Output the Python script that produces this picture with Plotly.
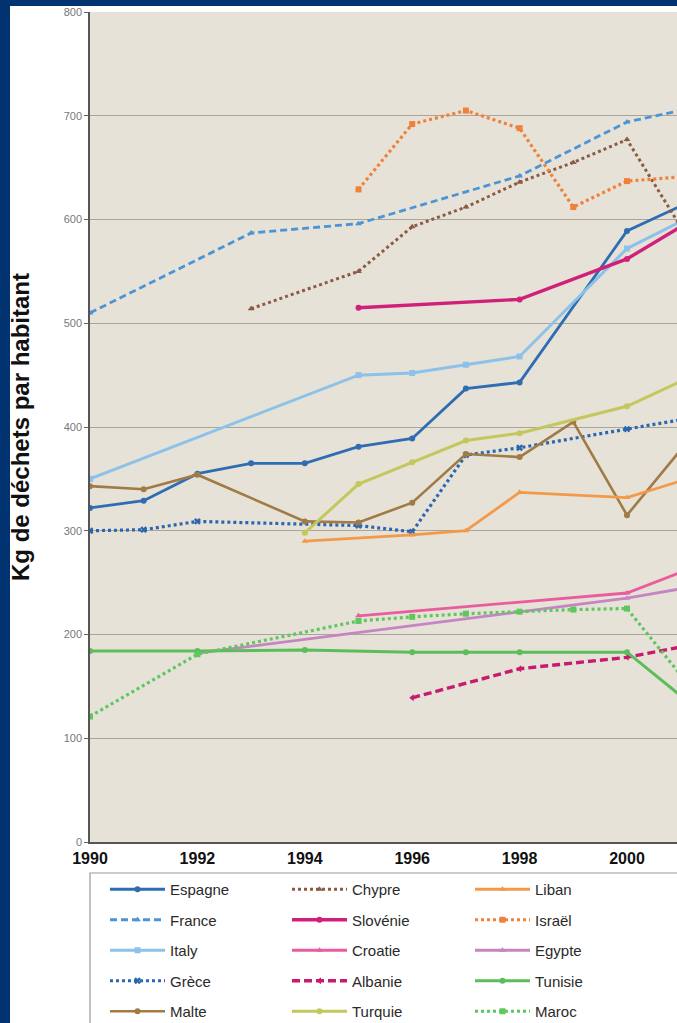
import plotly.graph_objects as go

# ---------------- data ----------------
espagne_x = [1990, 1991, 1992, 1993, 1994, 1995, 1996, 1997, 1998, 2000, 2001]
espagne_y = [322, 329, 355, 365, 365, 381, 389, 437, 443, 589, 613]

france_x = [1990, 1993, 1995, 1998, 2000, 2001]
france_y = [510, 587, 596, 642, 694, 705]

italy_x = [1990, 1995, 1996, 1997, 1998, 2000, 2001]
italy_y = [350, 450, 452, 460, 468, 572, 598]

grece_x = [1990, 1991, 1992, 1995, 1996, 1997, 1998, 2000, 2001]
grece_y = [300, 301, 309, 305, 299, 373, 380, 398, 407]

malte_x = [1990, 1991, 1992, 1994, 1995, 1996, 1997, 1998, 1999, 2000, 2001]
malte_y = [343, 340, 354, 309, 308, 327, 374, 371, 405, 315, 378]

chypre_x = [1993, 1995, 1996, 1997, 1998, 1999, 2000, 2001]
chypre_y = [514, 550, 593, 612, 636, 655, 677, 593]

slovenie_x = [1995, 1998, 2000, 2001]
slovenie_y = [515, 523, 562, 593]

croatie_x = [1995, 2000, 2001]
croatie_y = [218, 240, 260]

albanie_x = [1996, 1998, 2000, 2001]
albanie_y = [139, 167, 178, 188]

turquie_x = [1994, 1995, 1996, 1997, 1998, 2000, 2001]
turquie_y = [298, 345, 366, 387, 394, 420, 444]

liban_x = [1994, 1996, 1997, 1998, 2000, 2001]
liban_y = [290, 296, 300, 337, 332, 348]

israel_x = [1995, 1996, 1997, 1998, 1999, 2000, 2001]
israel_y = [629, 692, 705, 688, 612, 637, 641]

egypte_x = [1992, 2000, 2001]
egypte_y = [182, 235, 244]

tunisie_x = [1990, 1992, 1994, 1996, 1997, 1998, 2000, 2001]
tunisie_y = [184, 184, 185, 183, 183, 183, 183, 141]

maroc_x = [1990, 1992, 1995, 1996, 1997, 1998, 1999, 2000, 2001]
maroc_y = [121, 181, 213, 217, 220, 222, 224, 225, 161]

x_ticks = [1990, 1992, 1994, 1996, 1998, 2000]
y_ticks = [0, 100, 200, 300, 400, 500, 600, 700, 800]

# ---------------- layout helpers ----------------
W, H = 677, 1023
PL, PR, PT, PB = 90, 677, 12, 842  # plot area in pixels


def px2x(px):
    return (px - PL) / (PR - PL)


def px2y(py):
    return (PB - py) / (PB - PT)


DOT = "3px,3px"
DASH = "7px,4px"

series = [
    # name, x, y, color, dash, width, symbol, legend
    ("Espagne", espagne_x, espagne_y, "#2f6db3", "solid", 2.8, "circle", "legend"),
    ("France", france_x, france_y, "#4b94d6", DASH, 2.8, "triangle-up", "legend"),
    ("Italy", italy_x, italy_y, "#8cc1ea", "solid", 3.0, "square", "legend"),
    ("Grèce", grece_x, grece_y, "#2b66b1", DOT, 3.2, "x", "legend"),
    ("Malte", malte_x, malte_y, "#a07b45", "solid", 2.6, "circle", "legend"),
    ("Chypre", chypre_x, chypre_y, "#8c5a45", DOT, 3.0, "triangle-up", "legend2"),
    ("Slovénie", slovenie_x, slovenie_y, "#d1207a", "solid", 3.4, "circle", "legend2"),
    ("Croatie", croatie_x, croatie_y, "#ea5c9e", "solid", 2.8, "triangle-up", "legend2"),
    ("Albanie", albanie_x, albanie_y, "#c81b6f", "8px,4px", 3.4, "triangle-left", "legend2"),
    ("Turquie", turquie_x, turquie_y, "#c4c75b", "solid", 3.0, "circle", "legend2"),
    ("Liban", liban_x, liban_y, "#f3994a", "solid", 2.8, "triangle-up", "legend3"),
    ("Israël", israel_x, israel_y, "#f0803a", DOT, 3.2, "square", "legend3"),
    ("Egypte", egypte_x, egypte_y, "#c584c2", "solid", 2.8, "triangle-up", "legend3"),
    ("Tunisie", tunisie_x, tunisie_y, "#5dbd5d", "solid", 3.0, "circle", "legend3"),
    ("Maroc", maroc_x, maroc_y, "#5fc75f", DOT, 3.2, "square", "legend3"),
]

fig = go.Figure()
for name, xs, ys, color, dash, width, symbol, leg in series:
    fig.add_trace(go.Scatter(
        x=xs, y=ys, name=name, mode="lines+markers",
        line=dict(color=color, width=width, dash=dash),
        marker=dict(symbol=symbol, size=6, color=color, line=dict(width=0)),
        cliponaxis=True,
        legend=leg, legendgroup=name,
    ))

legend_common = dict(
    orientation="v", bgcolor="rgba(0,0,0,0)", borderwidth=0,
    font=dict(family="Liberation Sans, Arial, sans-serif", size=15, color="#2a2a2a"),
    itemwidth=55, tracegroupgap=8, yanchor="top", xanchor="left",
    itemclick=False, itemdoubleclick=False,
)

fig.update_layout(
    width=W, height=H,
    margin=dict(l=PL, r=W - PR, t=PT, b=H - PB, autoexpand=False),
    paper_bgcolor="white",
    plot_bgcolor="#e6e2d7",
    showlegend=True,
    legend=dict(legend_common, x=px2x(105), y=px2y(873)),
    legend2=dict(legend_common, x=px2x(287), y=px2y(873)),
    legend3=dict(legend_common, x=px2x(470), y=px2y(873)),
    xaxis=dict(
        range=[1990, 1990 + (PR - PL) / 53.7],
        tickmode="array", tickvals=x_ticks, ticktext=[str(t) for t in x_ticks],
        showgrid=False, zeroline=False,
        showline=True, linecolor="#555555", linewidth=1.5,
        ticks="", ticklabelstandoff=1,
        tickfont=dict(family="Liberation Sans Narrow, Liberation Sans, Arial", size=16,
                      color="#111111", weight="bold"),
    ),
    yaxis=dict(
        range=[0, 800],
        tickmode="array", tickvals=y_ticks,
        showgrid=True, gridcolor="#a9a59b", gridwidth=1.4,
        zeroline=False,
        showline=True, linecolor="#555555", linewidth=1.5,
        ticks="outside", ticklen=4, tickcolor="#666666",
        tickfont=dict(family="Liberation Sans, Arial", size=11, color="#777777"),
        title=dict(text="Kg de déchets par habitant", standoff=27,
                   font=dict(family="Liberation Sans, Arial", size=24,
                             color="#111111", weight="bold")),
    ),
    shapes=[
        # legend box
        dict(type="rect", xref="paper", yref="paper", layer="below",
             x0=px2x(90), x1=px2x(700), y0=px2y(1040), y1=px2y(873),
             line=dict(color="#9a9a9a", width=1.2), fillcolor="white"),
        # navy frame (left and top)
        dict(type="rect", xref="paper", yref="paper", layer="above",
             x0=px2x(-5), x1=px2x(10), y0=px2y(1030), y1=px2y(-5),
             line=dict(width=0), fillcolor="#013370"),
        dict(type="rect", xref="paper", yref="paper", layer="above",
             x0=px2x(-5), x1=px2x(690), y0=px2y(6), y1=px2y(-5),
             line=dict(width=0), fillcolor="#013370"),
    ],
)

fig.write_html(
    "out.html",
    config={"displayModeBar": False},
    post_script="document.body.style.margin='0';document.body.style.overflow='hidden';",
)
